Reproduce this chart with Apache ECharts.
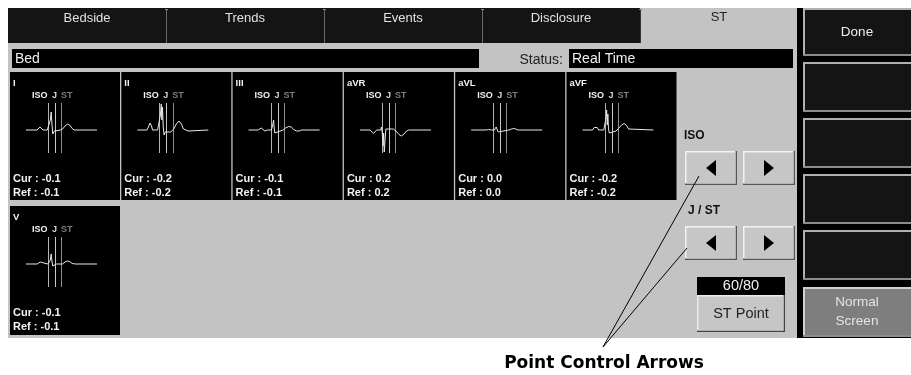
<!DOCTYPE html>
<html>
<head>
<meta charset="utf-8">
<script src="https://cdn.jsdelivr.net/npm/echarts@6/dist/echarts.min.js"></script>
<style>
  html, body { margin: 0; padding: 0; background: #fff; }
  #chart { width: 911px; height: 375px; }
</style>
</head>
<body>
<div id="chart"></div>
<script>
// screen texts
const tabs = ['Bedside', 'Trends', 'Events', 'Disclosure', 'ST']
const sideButtons = ['Done', '', '', '', '', 'Normal\nScreen']
const leads = ['I', 'II', 'III', 'aVR', 'aVL', 'aVF', 'V']
const curValues = ['-0.1', '-0.2', '-0.1', '0.2', '0.0', '-0.2', '-0.1']
const refValues = ['-0.1', '-0.2', '-0.1', '0.2', '0.0', '-0.2', '-0.1']
const stMarkNames = ['ISO', 'J', 'ST']
const stMarks = [220, 290, 350] // ms, ISO / J / ST point
const stPointLabel = '60/80'

// ST template beats, [ms, mV]
const waveI = [[0, 0], [108, 0], [123, 0.2], [138, 0.3], [153, 0.2], [168, 0], [180, -0.1], [210, 0], [228, -0.2], [240, 1.0], [248, 1.8], [256, 0.6], [264, -0.4], [272, -0.2], [280, -0.1], [340, 0], [360, 0.1], [385, 0.4], [410, 0.6], [430, 0.5], [455, 0.15], [475, 0], [700, 0]]
const waveII = [[0, 0], [95, 0], [110, 0.3], [125, 0.7], [140, 0.4], [150, 0], [200, 0], [215, -0.2], [228, 1.5], [236, 2.6], [242, 1.0], [248, 2.3], [256, 0.3], [264, -0.5], [275, -0.2], [330, -0.2], [360, 0.1], [385, 0.6], [410, 0.9], [435, 0.6], [455, 0.1], [470, -0.1], [480, 0], [490, -0.15], [500, -0.1], [515, 0], [700, 0]]
const waveIII = [[0, 0], [95, 0], [110, 0.15], [125, 0.2], [140, 0], [160, -0.1], [185, 0], [225, 0], [232, -0.2], [240, 0.6], [246, 1.0], [252, 0.2], [258, -0.3], [266, -0.1], [340, 0], [365, 0.2], [395, 0.35], [420, 0.3], [445, 0.05], [470, -0.1], [500, -0.1], [520, 0], [700, 0]]
const waveAVR = [[0, 0], [100, 0], [118, -0.2], [133, -0.35], [150, -0.2], [165, 0], [205, 0], [212, 0.3], [220, -0.2], [228, -1.6], [234, -0.3], [240, -2.2], [248, -1.0], [256, 0.1], [264, 0.2], [280, 0.1], [330, 0.1], [355, -0.1], [385, -0.45], [410, -0.6], [435, -0.4], [460, -0.1], [480, 0], [700, 0]]
const waveAVL = [[0, 0], [150, 0], [170, 0.05], [200, 0], [228, 0], [236, -0.1], [246, 0.3], [252, 0.5], [258, 0.1], [266, -0.2], [276, 0], [370, 0], [400, 0.1], [420, 0.15], [440, 0.1], [460, 0], [700, 0]]
const waveAVF = [[0, 0], [100, 0], [115, 0.25], [130, 0.4], [145, 0.25], [160, 0], [210, 0], [222, -0.2], [232, 1.2], [238, 2.0], [244, 0.5], [250, 1.6], [256, 0.2], [264, -0.3], [272, -0.1], [330, -0.1], [355, 0.15], [385, 0.5], [410, 0.65], [435, 0.45], [455, 0.1], [470, 0], [700, 0]]
const waveV = [[0, 0], [110, 0], [125, 0.15], [140, 0.2], [155, 0], [215, 0], [225, -0.1], [240, 0.4], [248, 1.0], [256, 0.3], [264, -0.2], [272, -0.1], [300, 0], [360, 0], [385, 0.2], [410, 0.3], [430, 0.25], [455, 0.05], [470, -0.05], [490, 0], [700, 0]]
const waves = [waveI, waveII, waveIII, waveAVR, waveAVL, waveAVF, waveV]

const FONT = '"Liberation Sans", Arial, sans-serif'
const PANEL = '#c3c3c3'

const chart = echarts.init(document.getElementById('chart'))

function text(x, y, str, size, color, opts = {}) {
  return {
    type: 'text',
    x,
    y,
    z: 20,
    silent: true,
    style: {
      text: str,
      fill: color,
      font: (opts.bold ? 'bold ' : '') + size + 'px ' + (opts.family || FONT),
      textAlign: opts.align || 'left',
      textVerticalAlign: 'middle',
      align: opts.align || 'left',
      verticalAlign: 'middle',
      lineHeight: opts.lineHeight,
    },
  }
}

function rect(x, y, w, h, fill, z = 1) {
  return { type: 'rect', z, silent: true, shape: { x, y, width: w, height: h }, style: { fill } }
}

function line(x1, y1, x2, y2, color, z = 2) {
  return { type: 'line', z, silent: true, shape: { x1, y1, x2, y2 }, style: { stroke: color, lineWidth: 1 } }
}

// raised button: dark frame, light frame, face
function bevel(x, y, w, h, face, light, dark, bw) {
  return [
    rect(x, y, w, h, dark, 2),
    rect(x, y, w - bw, h - bw, light, 2),
    rect(x + bw, y + bw, w - 2 * bw, h - 2 * bw, face, 2),
  ]
}

function tileBox(i) {
  if (i < 6) return { left: 10 + i * 111.3, top: 72, width: 110, height: 128 }
  return { left: 10, top: 206, width: 110, height: 129 }
}

const graphic = []

// background panels
graphic.push(rect(8, 8, 789, 330, PANEL, 0))
graphic.push(rect(8, 8, 789, 35, '#141414', 1))
graphic.push(rect(640, 8, 157, 35, PANEL, 1))
graphic.push(rect(797, 8, 114, 330, '#000', 1))

// tabs
const tabW = 158
tabs.forEach((t, i) => {
  const cx = 8 + i * tabW + tabW / 2
  graphic.push(text(cx, i === 4 ? 17 : 18, t, 13, i === 4 ? '#222' : '#e2e2e2', { align: 'center' }))
  if (i > 0) {
    const sx = 8 + i * tabW + 0.5
    graphic.push(line(sx, 10, sx, 43, i === 4 ? '#333' : '#6a6a6a'))
    graphic.push(line(sx - 1.5, 9.5, sx + 1.5, 9.5, '#8a8a8a'))
  }
})

// field row
graphic.push(rect(12, 49, 467, 19, '#000', 2))
graphic.push(text(15, 59, 'Bed', 14, '#f0f0f0'))
graphic.push(text(563, 60, 'Status:', 14, '#222', { align: 'right' }))
graphic.push(rect(569, 49, 224, 19, '#000', 2))
graphic.push(text(572, 59, 'Real Time', 14, '#f0f0f0'))

// lead tiles
const grid = []
const xAxis = []
const yAxis = []
const series = []
const markColors = ['#b4b4b4', '#c8c8c8', '#8c8c8c']
const stLabelColors = ['#f2f2f2', '#d8d8d8', '#7c7c7c']
const stLabelOffsets = [22, 42, 51]
leads.forEach((lead, i) => {
  const b = tileBox(i)
  graphic.push(rect(b.left, b.top, b.width, b.height, '#000', 2))
  graphic.push(text(b.left + 3, b.top + 11, lead, 9.5, '#f2f2f2', { bold: true }))
  stMarkNames.forEach((n, k) => {
    graphic.push(text(b.left + stLabelOffsets[k], b.top + 24, n, 9, stLabelColors[k], { bold: true }))
  })
  graphic.push(text(b.left + 3, b.top + 107, 'Cur : ' + curValues[i], 11, '#f2f2f2', { bold: true }))
  graphic.push(text(b.left + 3, b.top + 120.5, 'Ref : ' + refValues[i], 11, '#f2f2f2', { bold: true }))

  grid.push({ left: b.left + 16, top: b.top + 31, width: 71, height: 50 })
  xAxis.push({ gridIndex: i, type: 'value', min: 0, max: 700, show: false })
  yAxis.push({ gridIndex: i, type: 'value', min: -2.3, max: 2.7, show: false })
  series.push({
    type: 'line',
    xAxisIndex: i,
    yAxisIndex: i,
    data: waves[i],
    showSymbol: false,
    silent: true,
    z: 10,
    lineStyle: { color: '#e8e8e8', width: 1 },
    markLine: {
      silent: true,
      symbol: 'none',
      animation: false,
      label: { show: false },
      data: stMarks.map((x, k) => ({ xAxis: x, lineStyle: { color: markColors[k], width: 1, type: 'solid' } })),
    },
  })
})

// point controls
graphic.push(text(684, 136, 'ISO', 12, '#111', { bold: true }))
graphic.push(text(688, 211, 'J / ST', 12, '#111', { bold: true }))
const arrowRows = [151, 226]
arrowRows.forEach((y) => {
  graphic.push(...bevel(685, y, 52, 34, '#c6c6c6', '#f2f2f2', '#555', 1.5))
  graphic.push(...bevel(743, y, 52, 34, '#c6c6c6', '#f2f2f2', '#555', 1.5))
  const cy = y + 17
  graphic.push({ type: 'polygon', z: 5, silent: true, shape: { points: [[716, cy - 8], [716, cy + 8], [706, cy]] }, style: { fill: '#000' } })
  graphic.push({ type: 'polygon', z: 5, silent: true, shape: { points: [[764, cy - 8], [764, cy + 8], [774, cy]] }, style: { fill: '#000' } })
})
graphic.push(rect(697, 277, 88, 18, '#000', 2))
graphic.push(text(741, 286, stPointLabel, 14.5, '#f0f0f0', { align: 'center' }))
graphic.push(...bevel(697, 295, 88, 37, '#c6c6c6', '#ececec', '#444', 1.5))
graphic.push(text(741, 314, 'ST Point', 14.5, '#222', { align: 'center' }))

// side buttons
const sideTops = [8, 62, 118, 174, 230, 287]
sideButtons.forEach((label, i) => {
  const y = sideTops[i]
  const h = i === 0 ? 48 : 50
  const normal = i === 5
  graphic.push(...bevel(803, y, 110, h, normal ? '#7e7e7e' : '#141414', normal ? '#d0d0d0' : '#b0b0b0', '#8c8c8c', 2))
  if (label) {
    graphic.push(text(857, y + h / 2, label, 13.5, normal ? '#e4e4e4' : '#eeeeee', { align: 'center', lineHeight: 19 }))
  }
})

// callout
const tip = [603, 347]
graphic.push(line(tip[0], tip[1], 699, 176, '#000', 30))
graphic.push(line(tip[0], tip[1], 687, 248, '#000', 30))
graphic.push(text(604, 364, 'Point Control Arrows', 17, '#000', { bold: true, align: 'center', family: '"DejaVu Sans", sans-serif' }))

chart.setOption({
  animation: false,
  backgroundColor: '#fff',
  grid,
  xAxis,
  yAxis,
  series,
  graphic: { elements: graphic },
})
</script>
</body>
</html>
